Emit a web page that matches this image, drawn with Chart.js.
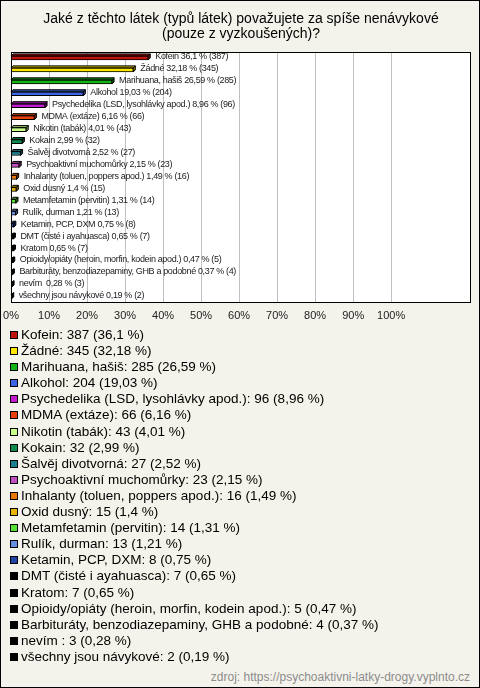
<!DOCTYPE html>
<html>
<head>
<meta charset="utf-8">
<script src="https://cdn.jsdelivr.net/npm/chart.js@4"></script>
<style>
  body { margin: 0; background: #fff; font-family: "Liberation Sans", Arial, sans-serif; }
  #wrap { position: relative; width: 480px; height: 688px; box-sizing: border-box; border: 1px solid #000; background: #f4f3eb; overflow: hidden; }
  #chartBox { position: absolute; left: 0; top: 0; width: 478px; height: 333px; }
  #legend { position: absolute; left: 9px; top: 326px; font-size: 13.5px; color: #000; }
  #legend div { height: 16.1px; line-height: 16.1px; white-space: nowrap; }
  #legend span { display: inline-block; width: 6px; height: 6px; border: 1px solid #000; margin-right: 3px; vertical-align: 0px; }
  #src { position: absolute; right: 9px; top: 669px; font-size: 12px; line-height: 14px; color: #8c8c8c; }
</style>
</head>
<body>
<div id="wrap">
  <div id="chartBox"><canvas id="ch"></canvas></div>
  <div id="legend"></div>
  <div id="src">zdroj: https://psychoaktivni-latky-drogy.vyplnto.cz</div>
</div>
<script>
const titleLines = ['Jaké z těchto látek (typů látek) považujete za spíše nenávykové', '(pouze z vyzkoušených)?'];
const labels = ['Kofein', 'Žádné', 'Marihuana, hašiš', 'Alkohol', 'Psychedelika (LSD, lysohlávky apod.)', 'MDMA (extáze)',
  'Nikotin (tabák)', 'Kokain', 'Šalvěj divotvorná', 'Psychoaktivní muchomůrky', 'Inhalanty (toluen, poppers apod.)',
  'Oxid dusný', 'Metamfetamin (pervitin)', 'Rulík, durman', 'Ketamin, PCP, DXM', 'DMT (čisté i ayahuasca)', 'Kratom',
  'Opioidy/opiáty (heroin, morfin, kodein apod.)', 'Barbituráty, benzodiazepaminy, GHB a podobné', 'nevím ', 'všechny jsou návykové'];
const counts = [387, 345, 285, 204, 96, 66, 43, 32, 27, 23, 16, 15, 14, 13, 8, 7, 7, 5, 4, 3, 2];
const percents = [36.1, 32.18, 26.59, 19.03, 8.96, 6.16, 4.01, 2.99, 2.52, 2.15, 1.49, 1.4, 1.31, 1.21, 0.75, 0.65, 0.65, 0.47, 0.37, 0.28, 0.19];
const colors = ['#c0150c', '#ffe800', '#13b313', '#3d66e6', '#c21bd0', '#e8400c', '#c8ff88', '#0e8a4e', '#1a7f8e', '#c04fc0',
  '#e8760a', '#e6b400', '#55e033', '#6690e0', '#2244a6', '#000000', '#000000', '#000000', '#000000', '#000000', '#000000'];
const xTicks = [0, 10, 20, 30, 40, 50, 60, 70, 80, 90, 100];

const fmt = v => String(v).replace('.', ',');

function shade(hex, f){
  const n = parseInt(hex.slice(1), 16);
  const r = Math.round(((n >> 16) & 255) * f), g = Math.round(((n >> 8) & 255) * f), b = Math.round((n & 255) * f);
  return `rgb(${r},${g},${b})`;
}

// white plot area, grid lines, black frame
const plotBg = {
  id: 'plotBg',
  beforeDraw(c){
    const a = c.chartArea, x = c.ctx;
    x.save(); x.fillStyle = '#fff'; x.fillRect(a.left, a.top, a.width, a.height); x.restore();
  },
  beforeDatasetsDraw(c){
    const a = c.chartArea, x = c.ctx, sx = c.scales.x;
    x.save();
    x.fillStyle = '#c0c0c0';
    xTicks.slice(1).forEach(v => {
      const px = Math.round(sx.getPixelForValue(v));
      x.fillRect(px, a.top, 1, a.height);
    });
    x.restore();
  },
  afterDraw(c){
    const a = c.chartArea, x = c.ctx;
    x.save(); x.strokeStyle = '#000'; x.lineWidth = 1;
    x.strokeRect(Math.round(a.left) + 0.5, Math.round(a.top) + 0.5, Math.round(a.width) - 1, Math.round(a.height) - 1);
    x.restore();
  }
};

// 3d depth on the bars + value labels
const bar3d = {
  id: 'bar3d',
  afterDatasetsDraw(c){
    const x = c.ctx, d = 2;
    c.getDatasetMeta(0).data.forEach((el, i) => {
      const { x: xe, y, base, height } = el.getProps(['x', 'y', 'base', 'height'], true);
      const yt = y - height / 2, yb = y + height / 2;
      x.save();
      x.lineWidth = 1; x.strokeStyle = '#000';
      x.fillStyle = shade(colors[i], 0.75);
      x.beginPath();
      x.moveTo(base, yt); x.lineTo(base + d, yt - d); x.lineTo(xe + d, yt - d); x.lineTo(xe, yt); x.closePath();
      x.fill(); x.stroke();
      x.fillStyle = shade(colors[i], 0.55);
      x.beginPath();
      x.moveTo(xe, yt); x.lineTo(xe + d, yt - d); x.lineTo(xe + d, yb - d); x.lineTo(xe, yb); x.closePath();
      x.fill(); x.stroke();
      x.fillStyle = '#1a1a1a';
      x.font = '9px "Liberation Sans", Arial, sans-serif';
      x.letterSpacing = '-0.35px';
      x.textBaseline = 'middle';
      x.fillText(`${labels[i]} ${fmt(percents[i])} % (${counts[i]})`, xe + d + 5, y - 1);
      x.restore();
    });
  }
};

new Chart(document.getElementById('ch'), {
  type: 'bar',
  data: {
    labels,
    datasets: [{ data: percents, backgroundColor: colors, borderColor: '#000', borderWidth: 1, borderSkipped: false, barThickness: 4 }]
  },
  options: {
    indexAxis: 'y',
    responsive: true,
    maintainAspectRatio: false,
    animation: false,
    layout: { padding: { left: 10, right: 8, top: 0, bottom: 4 } },
    plugins: {
      legend: { display: false },
      tooltip: { enabled: false },
      title: {
        display: true, text: titleLines, color: '#000',
        font: { family: '"Liberation Sans", Arial, sans-serif', size: 14, weight: 'normal', lineHeight: 1.07 },
        padding: { top: 11, bottom: 10 }
      }
    },
    scales: {
      x: {
        min: 0, max: 121,
        afterBuildTicks: s => { s.ticks = xTicks.map(v => ({ value: v })); },
        afterFit: s => { s.paddingLeft = 0; s.paddingRight = 0; },
        grid: { display: false, drawTicks: false },
        border: { display: false },
        ticks: { padding: 7, color: '#222', maxRotation: 0, font: { family: '"Liberation Sans", Arial, sans-serif', size: 11 }, callback: v => v + '%' }
      },
      y: { display: false }
    }
  },
  plugins: [plotBg, bar3d]
});

document.getElementById('legend').innerHTML = labels.map((l, i) =>
  `<div><span style="background:${colors[i]}"></span>${l}: ${counts[i]} (${fmt(percents[i])} %)</div>`).join('');
</script>
</body>
</html>
